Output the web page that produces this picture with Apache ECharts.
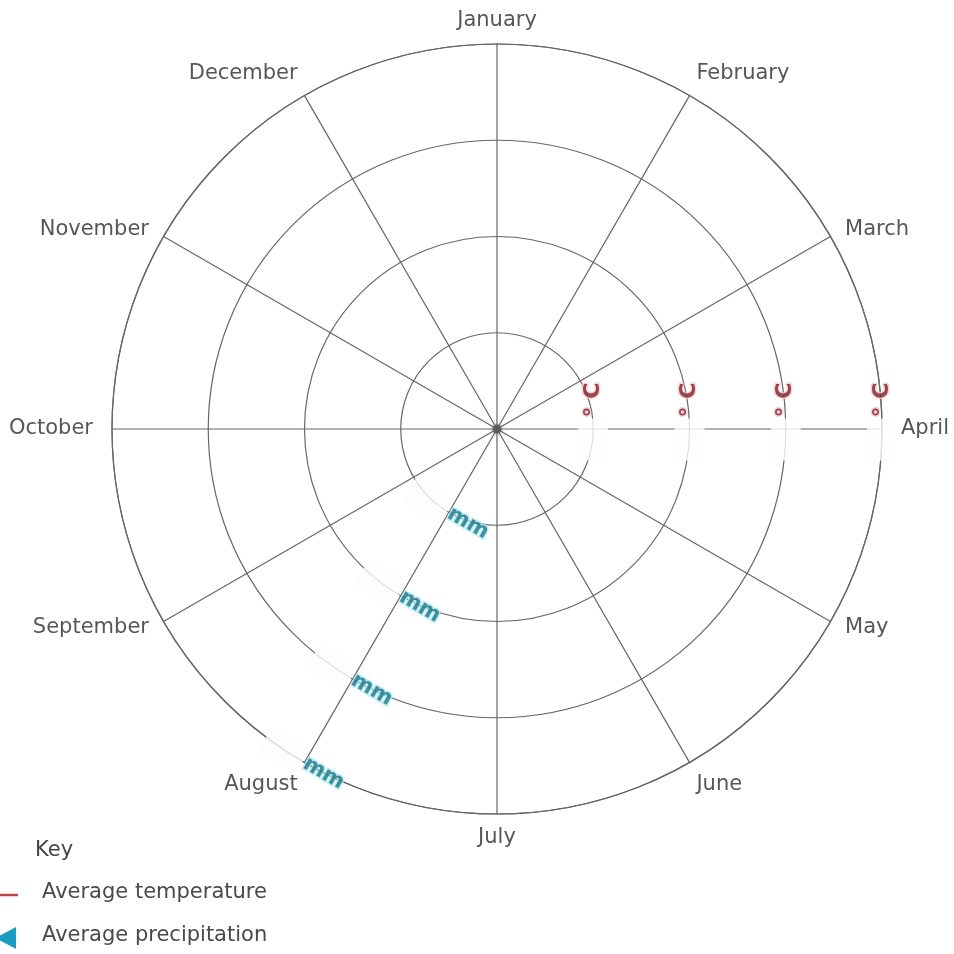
<!DOCTYPE html>
<html>
<head>
<meta charset="utf-8">
<script src="https://cdn.jsdelivr.net/npm/echarts@6/dist/echarts.min.js"></script>
<style>html,body{margin:0;padding:0;background:#fff;}#c{width:954px;height:954px;}</style>
</head>
<body>
<div id="c"></div>
<script>
const months = ['January','February','March','April','May','June','July','August','September','October','November','December'];
const ringValues = [1, 2, 3, 4];
const tempUnit = '° C';
const precipUnit = 'mm';
const tempAxisMonth = 'April';
const precipAxisMonth = 'August';
const keyTitle = 'Key';
const keyItems = ['Average temperature', 'Average precipitation'];

const FONT = 'DejaVu Sans';
const OUTER = ringValues[ringValues.length - 1];
const LABEL_GAP = 13;

// month labels placed just outside the outer ring, aligned by direction
const monthLabelData = months.map((m, i) => {
  const th = i / months.length * 2 * Math.PI;
  const sx = Math.sin(th), sy = -Math.cos(th);
  const align = Math.abs(sx) < 0.3 ? 'center' : (sx > 0 ? 'left' : 'right');
  const vAlign = Math.abs(sy) < 0.6 ? 'middle' : (sy > 0 ? 'top' : 'bottom');
  const gx = LABEL_GAP + 6 * Math.pow(Math.abs(sx), 3);
  return {
    value: [OUTER, i],
    label: { align: align, verticalAlign: vAlign, offset: [sx * gx, sy * LABEL_GAP], formatter: m }
  };
});

const chart = echarts.init(document.getElementById('c'));
const option = {
  animation: false,
  backgroundColor: '#ffffff',
  polar: { center: [497, 429], radius: 385 },
  angleAxis: {
    type: 'value',
    min: 0, max: months.length, interval: 1,
    startAngle: 90,
    clockwise: true,
    axisLine: { show: true, lineStyle: { color: '#666', width: 1.2 } },
    axisTick: { show: false },
    axisLabel: { show: false },
    splitLine: { show: true, lineStyle: { color: '#666', width: 1.2 } }
  },
  radiusAxis: {
    type: 'value',
    min: 0, max: OUTER, interval: 1,
    axisLine: { show: false },
    axisTick: { show: false },
    axisLabel: { show: false },
    splitLine: { show: true, lineStyle: { color: '#666', width: 1.2 } }
  },
  series: [
    {
      type: 'scatter', coordinateSystem: 'polar', name: 'months',
      data: monthLabelData,
      symbolSize: 0,
      silent: true, z: 3,
      label: { show: true, position: 'inside', color: '#2c2c2c', fontSize: 21, fontFamily: FONT,
               textBorderWidth: 0, textShadowBlur: 0 }
    },
    {
      type: 'scatter', coordinateSystem: 'polar', name: 'centre',
      data: [[0, 0]],
      symbolSize: 9,
      itemStyle: { color: '#555', shadowBlur: 4, shadowColor: '#777' },
      silent: true, z: 5
    },
    {
      type: 'scatter', coordinateSystem: 'polar', name: 'tempLabels',
      data: ringValues.map(v => [v, months.indexOf(tempAxisMonth)]),
      symbolSize: 0,
      silent: true, z: 10,
      label: {
        show: true, position: 'inside', rotate: 90, offset: [8, 0],
        textBorderWidth: 0, textShadowBlur: 0,
        formatter: '{box|}{unit|' + tempUnit + '}',
        rich: {
          box: { width: 42, height: 30, backgroundColor: '#fefefe' },
          unit: { color: '#7e2228', fontSize: 22, fontWeight: 'bold', fontFamily: FONT,
                  textBorderColor: '#f4c6cd', textBorderWidth: 3, padding: [0, 1, 0, 1] }
        }
      }
    },
    {
      type: 'scatter', coordinateSystem: 'polar', name: 'precipLabels',
      data: ringValues.map(v => [v, months.indexOf(precipAxisMonth)]),
      symbolSize: 0,
      silent: true, z: 10,
      label: {
        show: true, position: 'inside', rotate: -30,
        textBorderWidth: 0, textShadowBlur: 0,
        formatter: '{box|}{unit|' + precipUnit + '}',
        rich: {
          box: { width: 44, height: 30, backgroundColor: '#fdfdfd' },
          unit: { color: '#1b7683', fontSize: 21, fontWeight: 'bold', fontFamily: FONT,
                  textBorderColor: '#aeeaf3', textBorderWidth: 3, padding: [0, 2, 0, 2] }
        }
      }
    }
  ],
  graphic: [
    { type: 'text', left: 35, top: 840, style: { text: keyTitle, fill: '#444', fontSize: 21, fontFamily: FONT } },
    { type: 'line', shape: { x1: 0, y1: 895, x2: 18, y2: 895 }, style: { stroke: '#c0454a', lineWidth: 2.5 } },
    { type: 'text', left: 42, top: 882, style: { text: keyItems[0], fill: '#4a4a4a', fontSize: 21, fontFamily: FONT } },
    { type: 'polygon', shape: { points: [[-5, 938], [16, 927], [16, 949]] }, style: { fill: '#1a9cc4' } },
    { type: 'text', left: 42, top: 925, style: { text: keyItems[1], fill: '#4a4a4a', fontSize: 21, fontFamily: FONT } }
  ]
};
chart.setOption(option);
</script>
</body>
</html>
